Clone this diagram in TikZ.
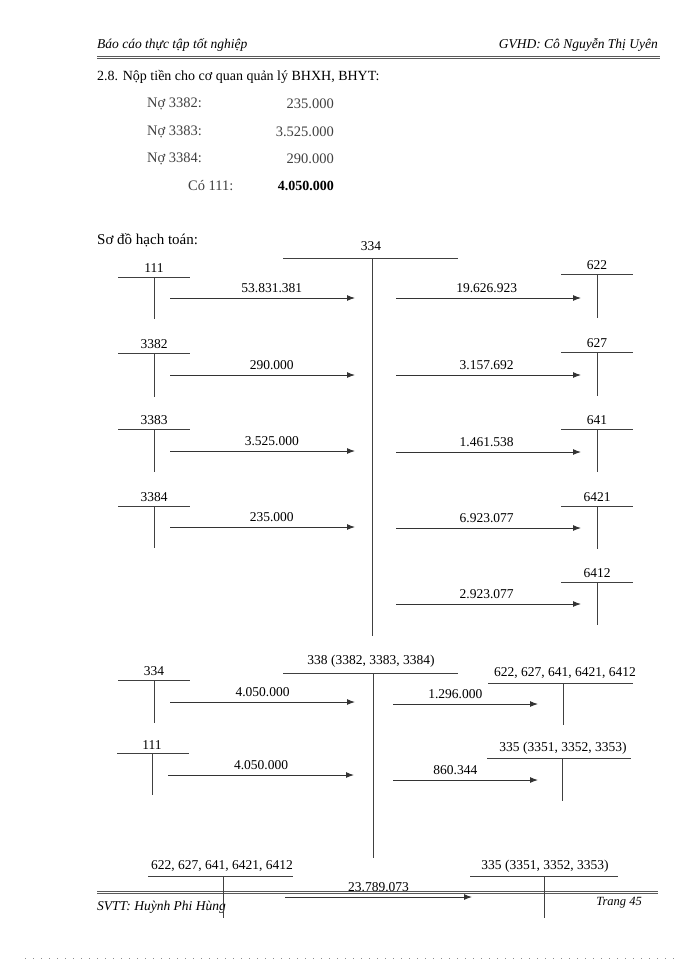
\documentclass[tikz,border=0pt]{standalone}
\usepackage{fontspec}
\setmainfont{Liberation Serif}
\usetikzlibrary{arrows.meta}
\begin{document}
\begin{tikzpicture}[x=1pt,y=-1pt,
  tl/.style={draw=black!75, line width=1pt},
  arr/.style={draw=black!80, line width=1pt, -{Latex[length=8pt,width=6pt]}},
  lbl/.style={inner sep=0pt, font=\fontsize{13.5}{15}\selectfont},
  amt/.style={inner sep=0pt, above=5pt, font=\fontsize{13.5}{15}\selectfont},
  entry/.style={inner sep=0pt, text=black!75, font=\fontsize{14.5}{16}\selectfont},
  hdr/.style={inner sep=0pt, font=\fontsize{13.5}{15}\selectfont\itshape},
  dbl/.style={draw=black!65, line width=0.7pt, double distance=1.4pt}]
\useasboundingbox (0,0) rectangle (700,960);

% header / footer
\node[hdr, anchor=west] (hl) at (97,45) {Báo cáo thực tập tốt nghiệp};
\node[hdr, anchor=east] (hr) at (658,45) {GVHD: Cô Nguyễn Thị Uyên};
\draw[dbl] (97,57.5) -- (660,57.5);
\draw[dbl] (97,892.5) -- (658,892.5);
\node[hdr, anchor=west] (fl) at (97,907) {SVTT: Huỳnh Phi Hùng};
\node[hdr, anchor=east, font=\fontsize{12.5}{14}\selectfont\itshape] (fr) at (642,903) {Trang 45};
\draw[draw=black!45, line width=0.8pt, dash pattern=on 0.8pt off 7.2pt] (25,958) -- (676,958);

% title and entries
\node[lbl, anchor=west, font=\fontsize{14}{16}\selectfont] (title) at (97,77) {2.8. Nộp tiền cho cơ quan quản lý BHXH, BHYT:};
\node[entry, anchor=west] (e1) at (147,104) {Nợ 3382:};
\node[entry, anchor=east] (v1) at (334,104) {235.000};
\node[entry, anchor=west] (e2) at (147,132) {Nợ 3383:};
\node[entry, anchor=east] (v2) at (334,132) {3.525.000};
\node[entry, anchor=west] (e3) at (147,159) {Nợ 3384:};
\node[entry, anchor=east] (v3) at (334,159) {290.000};
\node[entry, anchor=west] (e4) at (188,186) {Có 111:};
\node[entry, anchor=east, text=black, font=\fontsize{14}{16}\selectfont\bfseries] (v4) at (334,186) {4.050.000};
\node[lbl, anchor=west, font=\fontsize{15}{17}\selectfont] (sodo) at (97,240) {Sơ đồ hạch toán:};

% ===== diagram 1: account 334 =====
\node[lbl] (M334) at (371,246) {334};
\draw[tl] (283,258) -- (458,258);
\draw[tl] (372,258) -- (372,636);

% left T-accounts
\foreach \n/\ly/\hy/\by in {111/268/277/319, 3382/344/353/397, 3383/420/429/472, 3384/497/506/548}{
  \node[lbl] (L\n) at (154,\ly) {\n};
  \draw[tl] (118,\hy) -- (190,\hy);
  \draw[tl] (154,\hy) -- (154,\by);
}
% right T-accounts
\foreach \n/\ly/\hy/\by in {622/265/274/318, 627/343/352/396, 641/420/429/472, 6421/497/506/549, 6412/573/582/625}{
  \node[lbl] (R\n) at (597,\ly) {\n};
  \draw[tl] (561,\hy) -- (633,\hy);
  \draw[tl] (597,\hy) -- (597,\by);
}

% left arrows
\foreach \i/\y/\v in {1/298/53.831.381, 2/375/290.000, 3/451/3.525.000, 4/527/235.000}{
  \coordinate (ls\i) at (170,\y);
  \coordinate (le\i) at (355,\y);
  \draw[arr] (ls\i) -- node[amt, pos=0.55] {\v} (le\i);
}
% right arrows
\foreach \i/\y/\v in {1/298/19.626.923, 2/375/3.157.692, 3/452/1.461.538, 4/528/6.923.077, 5/604/2.923.077}{
  \coordinate (rs\i) at (396,\y);
  \coordinate (re\i) at (581,\y);
  \draw[arr] (rs\i) -- node[amt, pos=0.49] {\v} (re\i);
}

% ===== diagram 2: account 338 =====
\node[lbl] (M338) at (371,661) {338 (3382, 3383, 3384)};
\draw[tl] (283,673) -- (458,673);
\draw[tl] (373,673) -- (373,858);

\node[lbl] (L334) at (154,671) {334};
\draw[tl] (118,680) -- (190,680);
\draw[tl] (154,680) -- (154,723);
\node[lbl] (L111b) at (152,745) {111};
\draw[tl] (117,753) -- (189,753);
\draw[tl] (152,753) -- (152,795);

\node[lbl] (RA) at (565,673) {622, 627, 641, 6421, 6412};
\draw[tl] (488,683) -- (633,683);
\draw[tl] (563,683) -- (563,725);
\node[lbl] (RB) at (563,748) {335 (3351, 3352, 3353)};
\draw[tl] (487,758) -- (631,758);
\draw[tl] (562,758) -- (562,801);

\coordinate (ps1) at (170,702); \coordinate (pe1) at (355,702);
\draw[arr] (ps1) -- node[amt, pos=0.5] {4.050.000} (pe1);
\coordinate (ps2) at (168,775); \coordinate (pe2) at (354,775);
\draw[arr] (ps2) -- node[amt, pos=0.5] {4.050.000} (pe2);
\coordinate (qs1) at (393,704); \coordinate (qe1) at (538,704);
\draw[arr] (qs1) -- node[amt, pos=0.43] {1.296.000} (qe1);
\coordinate (qs2) at (393,780); \coordinate (qe2) at (538,780);
\draw[arr] (qs2) -- node[amt, pos=0.43] {860.344} (qe2);

% ===== bottom pair =====
\node[lbl] (BA) at (222,866) {622, 627, 641, 6421, 6412};
\draw[tl] (148,876) -- (293,876);
\draw[tl] (223,876) -- (223,918);
\node[lbl] (BB) at (545,866) {335 (3351, 3352, 3353)};
\draw[tl] (470,876) -- (618,876);
\draw[tl] (544,876) -- (544,918);
\coordinate (bs) at (285,897); \coordinate (be) at (472,897);
\draw[arr] (bs) -- node[amt, pos=0.5] {23.789.073} (be);
\end{tikzpicture}
\end{document}
